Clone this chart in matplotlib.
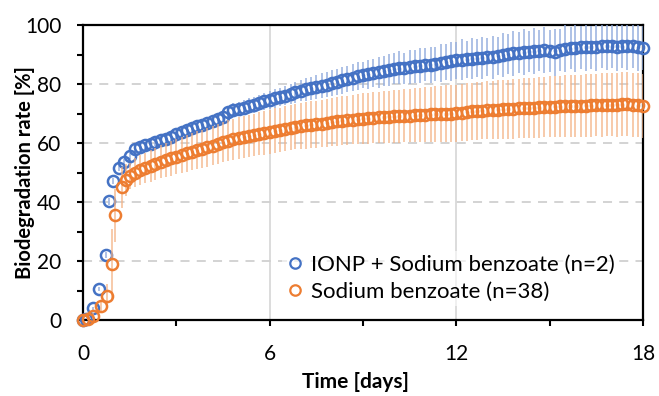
import matplotlib
matplotlib.use("Agg")
import matplotlib.pyplot as plt
from matplotlib.lines import Line2D

plt.rcParams['font.family'] = ['Lato', 'DejaVu Sans']

# Sampling times [days] shared by both series after the first day
grid_days = [
    1.50, 1.67, 1.83,
    2.00, 2.17, 2.33, 2.50, 2.67, 2.83,
    3.00, 3.17, 3.33, 3.50, 3.67, 3.83,
    4.00, 4.17, 4.33, 4.50, 4.67, 4.83,
    5.00, 5.17, 5.33, 5.50, 5.67, 5.83,
    6.00, 6.17, 6.33, 6.50, 6.67, 6.83,
    7.00, 7.17, 7.33, 7.50, 7.67, 7.83,
    8.00, 8.17, 8.33, 8.50, 8.67, 8.83,
    9.00, 9.17, 9.33, 9.50, 9.67, 9.83,
    10.00, 10.17, 10.33, 10.50, 10.67, 10.83,
    11.00, 11.17, 11.33, 11.50, 11.67, 11.83,
    12.00, 12.17, 12.33, 12.50, 12.67, 12.83,
    13.00, 13.17, 13.33, 13.50, 13.67, 13.83,
    14.00, 14.17, 14.33, 14.50, 14.67, 14.83,
    15.00, 15.17, 15.33, 15.50, 15.67, 15.83,
    16.00, 16.17, 16.33, 16.50, 16.67, 16.83,
    17.00, 17.17, 17.33, 17.50, 17.67, 17.83,
    18.00,
]

# IONP + Sodium benzoate (n=2)
ionp_early_days = [0.00, 0.10, 0.33, 0.51, 0.73, 0.82, 0.98, 1.17, 1.33]
ionp_early_mean = [0.0, 0.5, 4.0, 10.5, 22.0, 40.2, 47.0, 51.5, 53.7]
ionp_early_err = [0.2, 0.3, 0.5, 0.8, 1.0, 1.2, 1.0, 1.0, 1.0]
ionp_mean = [
    55.6, 57.8, 58.8,
    59.3, 59.8, 60.4, 61.0, 61.5, 62.0,
    63.2, 63.7, 64.3, 65.0, 65.6, 66.1,
    66.8, 67.4, 68.1, 68.8, 70.5, 71.2,
    71.6, 72.0, 72.5, 73.0, 73.6, 74.1,
    74.6, 75.1, 75.6, 76.1, 76.7, 77.2,
    77.7, 78.2, 78.6, 79.0, 79.4, 79.8,
    80.2, 80.7, 81.2, 81.7, 82.2, 82.6,
    83.0, 83.3, 83.7, 84.0, 84.4, 84.8,
    85.2, 85.5, 85.3, 85.8, 86.0, 86.2,
    86.5, 86.4, 86.8, 87.2, 87.5, 87.7,
    88.0, 88.3, 88.4, 88.6, 88.7, 88.9,
    89.2, 89.1, 89.5, 89.9, 90.2, 90.4,
    90.6, 90.8, 91.0, 91.1, 91.3, 91.5,
    91.2, 90.8, 91.6, 92.0, 92.2, 92.3,
    92.4, 92.5, 92.5, 92.6, 92.8, 92.9,
    92.8, 92.7, 92.9, 93.0, 92.8, 92.5,
    92.2,
]
ionp_err = [
    1.0, 1.0, 1.2,
    1.2, 1.3, 1.3, 1.4, 1.5, 1.5,
    1.6, 1.7, 1.8, 1.8, 1.9, 2.0,
    2.0, 2.1, 2.2, 2.3, 2.2, 2.3,
    2.4, 2.5, 2.6, 2.7, 2.8, 2.9,
    3.0, 3.1, 3.2, 3.3, 3.4, 3.5,
    3.6, 3.8, 3.9, 4.0, 4.2, 4.3,
    4.4, 4.5, 4.6, 4.4, 4.7, 4.8,
    4.5, 5.0, 4.8, 5.2, 5.0, 5.4,
    5.2, 5.6, 5.3, 5.8, 5.5, 6.0,
    5.6, 6.2, 5.8, 6.4, 6.0, 6.6,
    6.2, 6.8, 6.3, 7.0, 6.4, 7.2,
    6.5, 7.3, 6.6, 7.5, 6.8, 7.6,
    6.9, 7.7, 7.0, 7.8, 7.0, 7.9,
    7.1, 8.0, 7.2, 8.1, 7.2, 8.1,
    7.3, 8.2, 7.3, 8.2, 7.4, 8.3,
    7.4, 8.3, 7.5, 8.3, 7.5, 8.2,
    7.5,
]

# Sodium benzoate (n=38)
sb_early_days = [0.00, 0.15, 0.33, 0.58, 0.76, 0.92, 1.04, 1.24, 1.39]
sb_early_mean = [0.0, 0.3, 1.4, 4.7, 8.2, 19.0, 35.5, 45.0, 47.5]
sb_early_err = [0.0, 0.5, 1.0, 1.5, 4.0, 12.0, 9.0, 7.0, 5.5]
sb_mean = [
    48.8, 50.0, 50.8,
    51.5, 52.2, 52.9, 53.6, 54.2, 54.8,
    55.4, 56.0, 56.5, 57.0, 57.5, 58.0,
    58.6, 59.1, 59.7, 60.3, 60.8, 61.3,
    61.8, 62.1, 62.4, 62.8, 63.1, 63.4,
    63.8, 64.2, 64.5, 64.9, 65.2, 65.5,
    65.8, 66.0, 66.2, 66.4, 66.6, 66.9,
    67.1, 67.3, 67.5, 67.7, 67.9, 68.1,
    68.3, 68.4, 68.6, 68.7, 68.8, 68.9,
    69.0, 69.1, 69.2, 69.3, 69.4, 69.5,
    69.6, 69.7, 69.8, 69.9, 70.0, 70.0,
    70.1, 70.3, 70.5, 70.7, 70.8, 71.0,
    71.1, 71.2, 71.3, 71.4, 71.5, 71.6,
    71.7, 71.8, 71.9, 72.0, 72.1, 72.2,
    72.3, 72.3, 72.4, 72.5, 72.6, 72.6,
    72.7, 72.7, 72.8, 72.9, 72.9, 73.0,
    73.0, 73.0, 73.1, 73.1, 73.0, 72.8,
    72.5,
]
sb_err = [
    4.5, 4.8, 5.0,
    5.2, 5.4, 5.5, 5.6, 5.8, 5.9,
    6.0, 6.1, 6.2, 6.3, 6.4, 6.5,
    6.6, 6.7, 6.8, 6.9, 7.0, 7.0,
    7.1, 7.1, 7.2, 7.2, 7.3, 7.3,
    7.4, 7.5, 7.5, 7.6, 7.7, 7.7,
    7.8, 7.9, 7.9, 8.0, 8.1, 8.1,
    8.2, 8.2, 8.3, 8.4, 8.4, 8.5,
    8.5, 8.6, 8.7, 8.7, 8.8, 8.8,
    8.9, 9.0, 9.0, 9.1, 9.1, 9.2,
    9.3, 9.3, 9.4, 9.4, 9.5, 9.5,
    9.6, 9.6, 9.7, 9.7, 9.8, 9.8,
    9.9, 9.9, 10.0, 10.0, 10.0, 10.1,
    10.1, 10.2, 10.2, 10.2, 10.3, 10.3,
    10.3, 10.4, 10.4, 10.4, 10.5, 10.5,
    10.5, 10.6, 10.6, 10.6, 10.7, 10.7,
    10.7, 10.8, 10.8, 10.8, 10.8, 10.8,
    10.8,
]

labels = ['IONP + Sodium benzoate (n=2)', 'Sodium benzoate (n=38)']
blue = '#4472C4'
orange = '#ED7D31'

fig = plt.figure(figsize=(6.59, 3.96), dpi=100)
ax = fig.add_axes([83 / 659, 1 - 320 / 396, 560 / 659, 295 / 396])

# Series (blue first, orange drawn over it like in the original)
ax.errorbar(ionp_early_days + grid_days, ionp_early_mean + ionp_mean,
            yerr=ionp_early_err + ionp_err, fmt='none',
            ecolor='#8FAADC', elinewidth=1.2, alpha=0.85, zorder=3)
ax.plot(ionp_early_days + grid_days, ionp_early_mean + ionp_mean,
        ls='none', marker='o', ms=8, mfc='none', mec=blue, mew=1.8,
        zorder=4, clip_on=False)

ax.errorbar(sb_early_days + grid_days, sb_early_mean + sb_mean,
            yerr=sb_early_err + sb_err, fmt='none',
            ecolor='#F4B183', elinewidth=1.2, alpha=0.8, zorder=5)
ax.plot(sb_early_days + grid_days, sb_early_mean + sb_mean,
        ls='none', marker='o', ms=8, mfc='none', mec=orange, mew=1.8,
        zorder=6, clip_on=False)

# Axes styling
ax.set_xlim(0, 18)
ax.set_ylim(0, 100)
ax.set_xticks([0, 6, 12, 18])
ax.set_xticks([3, 9, 15], minor=True)
ax.set_yticks([0, 20, 40, 60, 80, 100])
ax.set_yticks([10, 30, 50, 70, 90], minor=True)
ax.tick_params(which='both', direction='out', width=1.5, length=4.5,
               labelsize=15, colors='black')
ax.tick_params(axis='x', which='major', pad=12.5)
ax.tick_params(axis='y', which='major', pad=11)
for s in ax.spines.values():
    s.set_linewidth(1.6)

for x in [6, 12]:
    ax.axvline(x, color='#D9D9D9', lw=1.3, zorder=1)
for y in [20, 40, 60, 80]:
    ax.axhline(y, color='#D0D0D0', lw=1.3, dashes=(5, 4), zorder=1)

ax.set_xlabel('Time [days]', fontsize=15, fontweight='bold')
ax.set_ylabel('Biodegradation rate [%]', fontsize=14.5, fontweight='bold')
ax.xaxis.set_label_coords(0.487, -0.175)
ax.yaxis.set_label_coords(-0.085, 0.5)

handles = [
    Line2D([], [], ls='none', marker='o', ms=7.5, mfc='none', mec=blue, mew=1.6),
    Line2D([], [], ls='none', marker='o', ms=7.5, mfc='none', mec=orange, mew=1.6),
]
leg = ax.legend(handles, labels, loc='upper left', bbox_to_anchor=(0.355, 0.235),
                borderaxespad=0, fontsize=16, frameon=True, framealpha=0.6,
                edgecolor='none', handlelength=0.8, handletextpad=0.3,
                labelspacing=0.3, borderpad=0.2)
leg.set_zorder(7)

fig.savefig('out.png', dpi=100)
